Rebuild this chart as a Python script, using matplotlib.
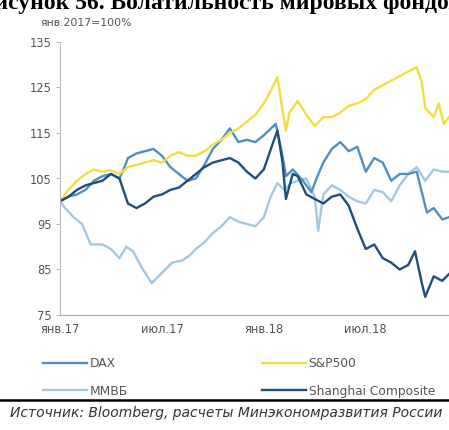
import matplotlib
matplotlib.use("Agg")
import matplotlib.pyplot as plt
from matplotlib.lines import Line2D

# months since January 2017
sp_x = [0, 0.5, 1, 1.5, 2, 2.5, 3, 3.5, 4, 4.5, 5, 5.5, 6, 6.5, 7, 7.5, 8, 8.5, 9, 9.5,
        10, 10.5, 11, 11.5, 12, 12.5, 12.8, 13.1, 13.3, 13.5, 14, 14.5, 15, 15.5, 16,
        16.5, 17, 17.5, 18, 18.5, 19, 19.5, 20, 20.5, 21, 21.3, 21.5, 22, 22.3, 22.6, 22.9]
sp_v = [100, 102.5, 104.5, 106, 107, 106.5, 106.8, 106, 107.5, 108, 108.5, 109, 108.5, 110,
        110.8, 110, 110, 111, 112.5, 113.5, 115, 116, 117.5, 119, 121.5, 125, 127.3, 120,
        115.5, 119.5, 122, 119, 116.5, 118.5, 118.5, 119.5, 121, 121.5, 122.5, 124.5, 125.5,
        126.5, 127.5, 128.5, 129.5, 126, 120.5, 118.5, 121.5, 117, 118.5]

dax_x = [0, 0.5, 1, 1.5, 2, 2.5, 3, 3.5, 3.8, 4, 4.5, 5, 5.5, 6, 6.5, 7, 7.5, 8, 8.5, 9,
         9.5, 10, 10.5, 11, 11.5, 12, 12.7, 13.1, 13.3, 13.7, 14.3, 14.8, 15.1, 15.5, 16,
         16.5, 17, 17.5, 18, 18.5, 19, 19.5, 20, 20.5, 21, 21.3, 21.6, 22, 22.5, 22.9]
dax_v = [100, 101, 101.5, 102.5, 104.5, 105.5, 106, 105, 107.5, 109.5, 110.5, 111, 111.5,
         110, 107.5, 106, 104.5, 105, 108, 111.5, 113.5, 116, 113, 113.5, 113, 114.5, 117,
         110, 105.5, 107, 104.5, 102, 105, 108.5, 111.5, 113, 111, 112, 106.5, 109.5, 108.5,
         104.5, 106, 106, 106.5, 102, 97.5, 98.5, 96, 96.5]

micex_x = [0, 0.3, 0.8, 1.3, 1.8, 2.5, 3, 3.5, 3.9, 4.3, 4.8, 5.4, 5.8, 6.2, 6.6, 7.2, 7.6,
           8, 8.5, 9, 9.5, 10, 10.5, 11, 11.5, 12, 12.4, 12.8, 13.2, 13.6, 14, 14.5, 15,
           15.2, 15.5, 16, 16.5, 17, 17.5, 18, 18.5, 19, 19.5, 20, 20.5, 21, 21.5, 22, 22.5, 22.9]
micex_v = [100, 98.5, 96.5, 95, 90.5, 90.5, 89.5, 87.5, 90, 89, 85.5, 82, 83.5, 85, 86.5,
           87, 88, 89.5, 91, 93, 94.5, 96.5, 95.5, 95, 94.5, 96.5, 101, 104, 102.5, 104,
           104.5, 105, 101, 93.5, 101.5, 103.5, 102.5, 101, 100, 99.5, 102.5, 102, 100,
           103.5, 106, 107.5, 104.5, 107, 106.5, 106.5]

shc_x = [0, 0.5, 1, 1.5, 2, 2.5, 3, 3.5, 4, 4.5, 5, 5.5, 6, 6.5, 7, 7.5, 8, 8.5, 9, 9.5,
         10, 10.5, 11, 11.5, 12, 12.6, 12.8, 13.1, 13.3, 13.7, 14, 14.5, 15, 15.5, 16, 16.5,
         17, 17.5, 18, 18.5, 19, 19.5, 20, 20.5, 20.9, 21.3, 21.5, 22, 22.5, 22.9]
shc_v = [100, 101, 102.5, 103.5, 104, 104.5, 106, 105, 99.5, 98.5, 99.5, 101, 101.5, 102.5,
         103, 104.5, 106, 107.5, 108.5, 109, 109.5, 108.5, 106.5, 105, 107, 113.5, 115.5,
         108.5, 100.5, 106, 105.5, 101.5, 100.5, 99.5, 101, 101.5, 99, 94, 89.5, 90.5, 87.5,
         86.5, 85, 86, 89, 82, 79, 83.5, 82.5, 84]

series_names = ["DAX", "ММВБ", "S&P500", "Shanghai Composite"]
y_ticks = [75, 85, 95, 105, 115, 125, 135]
x_ticks = [0, 6, 12, 18]
x_labels = ["янв.17", "июл.17", "янв.18", "июл.18"]

c_dax = "#4f8fc2"
c_micex = "#a3c8e3"
c_sp = "#f0de45"
c_shc = "#1f4d80"
grey = "#555555"

W, H = 449, 430
plt.rcParams['font.family'] = ['DejaVu Sans']
fig = plt.figure(figsize=(W/100, H/100), dpi=100)
ax = fig.add_axes([60/W, 1-315/H, 1.0-60/W, (315-42)/H])

lw = 1.7
ax.plot(micex_x, micex_v, color=c_micex, lw=lw)
ax.plot(dax_x, dax_v, color=c_dax, lw=lw)
ax.plot(sp_x, sp_v, color=c_sp, lw=lw)
ax.plot(shc_x, shc_v, color=c_shc, lw=lw)

ax.set_ylim(75, 135)
ax.set_xlim(0, 22.9)
ax.set_yticks(y_ticks)
ax.set_xticks(x_ticks)
ax.set_xticklabels(x_labels)
ax.tick_params(axis='y', labelsize=8.3, colors="#aaaaaa", labelcolor=grey, length=3, width=0.6, pad=3)
ax.tick_params(axis='x', labelsize=8.3, colors="#aaaaaa", labelcolor=grey, length=0, pad=6)
for s in ["top", "right"]:
    ax.spines[s].set_visible(False)
ax.spines["left"].set_color("#bbbbbb")
ax.spines["bottom"].set_color("#aaaaaa")
ax.spines["left"].set_linewidth(0.8)
ax.spines["bottom"].set_linewidth(0.8)

fig.text(40/W, 1-23/H, "янв.2017=100%", fontsize=7.8, color=grey, ha="left", va="center")

# title (cropped in the reference): place so that "Волатильность" starts near x=110 px
renderer = fig.canvas.get_renderer()
prefix = fig.text(0, 0, "Рисунок 56. ", fontsize=17, family="Liberation Serif", weight="bold")
pw = prefix.get_window_extent(renderer=renderer).width
prefix.remove()
fig.text((110 - pw)/W, 1-9/H, "Рисунок 56. Волатильность мировых фондовых рынков", fontsize=17,
         family="Liberation Serif", weight="bold", ha="left", va="baseline", color="black")

handles = [Line2D([], [], color=c_dax, lw=lw), Line2D([], [], color=c_micex, lw=lw),
           Line2D([], [], color=c_sp, lw=lw), Line2D([], [], color=c_shc, lw=lw)]
leg = fig.legend(handles, series_names, ncol=2, loc="upper left",
                 bbox_to_anchor=(32/W, 1-346/H), frameon=False, fontsize=8.8,
                 handlelength=3.6, handletextpad=0.2, columnspacing=11.0, labelspacing=1.2,
                 labelcolor=grey)

fig.add_artist(Line2D([0, 1], [1-400/H, 1-400/H], color="black", lw=1.8,
                      transform=fig.transFigure))
fig.text(10/W, 1-413/H, "Источник: Bloomberg, расчеты Минэкономразвития России",
         fontsize=10, style="italic", color="#333333", ha="left", va="center")

fig.savefig("out.png", dpi=100)
